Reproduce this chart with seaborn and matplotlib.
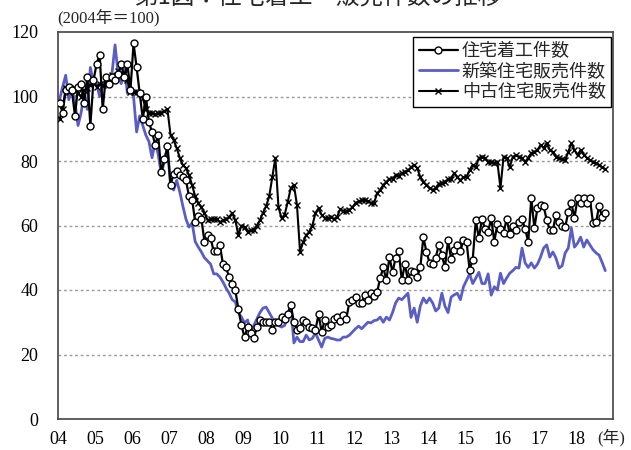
import numpy as np
import pandas as pd
import matplotlib
matplotlib.use("Agg")
import matplotlib.pyplot as plt
import seaborn as sns

# ---- data (index, 2004 = 100), monthly from Jan 2004 ----
starts = [
    98, 95, 102, 103, 102, 94, 103, 104, 98, 106, 91, 105,            # 2004
    110, 113, 96, 106, 104, 106, 105, 107, 110, 106, 110, 102,        # 2005
    116.5, 109, 101, 93, 100, 92, 89, 85, 88, 76.5, 80.5, 84.5,       # 2006
    72.6, 76, 77, 75.6, 75, 74, 69, 68, 61, 63, 62, 55,               # 2007
    57, 56, 52, 52, 54, 48, 47, 44, 42, 40, 34, 29,                   # 2008
    25.4, 28.5, 26.7, 25, 28.5, 30.7, 30, 30, 30, 27.6, 30, 30,       # 2009
    31.5, 31, 32.6, 35.5, 30, 27.6, 28.2, 30.7, 30, 28.5, 28.2, 27.6, # 2010
    32.5, 27, 30.7, 28.5, 29, 31, 31.6, 30.5, 32.2, 31, 36.3, 36.9,   # 2011
    37.8, 36, 36, 38.4, 36.9, 39, 38, 39.4, 43.7, 47, 43, 50.2,       # 2012
    45.5, 50, 52, 43, 48, 43, 46, 45.5, 44, 47, 56.4, 51.8,           # 2013
    48.4, 48, 50, 54, 50.8, 47, 55.5, 49.5, 52.4, 54, 52, 55.5,       # 2014
    55, 46.2, 49.4, 61.7, 56, 62, 59, 58, 62.3, 55, 60.5, 59,         # 2015
    57.7, 62, 57.5, 60, 58.6, 61, 62, 59, 54.9, 68.5, 59.2, 65.4,     # 2016
    66.4, 66, 61.7, 58.6, 58.6, 63.3, 61, 60, 59.5, 64.2, 67, 62.3,   # 2017
    68.5, 67, 68.5, 67, 68.5, 60.8, 61, 66, 62.6, 64,                 # 2018
]
new_sales = [
    99, 103, 106.6, 99, 102.6, 98, 91, 95, 101, 96, 109, 104,         # 2004
    104, 100, 103, 105, 104, 107, 116, 107, 104, 110, 101, 103,       # 2005
    100, 89, 94, 91, 88, 86, 81, 86, 82, 76, 80, 84,                  # 2006
    72.5, 71, 74, 70.4, 66, 62, 59.5, 60.8, 55, 53.3, 51.8, 50,       # 2007
    49, 48, 45, 45, 44, 42.5, 40.6, 39, 37, 36.3, 33, 31.6,           # 2008
    29.8, 30.7, 26.7, 29, 31, 33, 34.4, 34.7, 33, 31.3, 29.8, 29,     # 2009
    28.5, 29, 32, 35.4, 23.6, 25.4, 24, 24, 26, 24.5, 25, 26.7,       # 2010
    24.5, 22.3, 25, 25.4, 25, 24.8, 24.5, 24.5, 25.4, 25.4, 26, 27,   # 2011
    28, 28.8, 28, 29, 30, 29.8, 30.5, 30.7, 31.6, 30, 31.6, 30.7,     # 2012
    33, 36, 37.5, 37, 38, 39, 31.5, 34.4, 30, 35, 37.5, 36,           # 2013
    37.5, 36, 33.5, 34.4, 39, 35, 33, 37.8, 38.5, 39, 37, 41,         # 2014
    43, 45, 42, 43.7, 45.5, 42, 42, 45, 38.4, 41, 40, 45.2,           # 2015
    42, 43.7, 45.2, 46, 47, 46.8, 53, 48.4, 47, 48.4, 46.8, 48,       # 2016
    50.2, 53, 54, 50.2, 51.8, 49.9, 46.8, 47.5, 51.5, 53, 59.2, 53.3, # 2017
    54.5, 56.4, 53.3, 55.5, 54, 52.5, 51.5, 50.8, 48.5, 46,           # 2018
]
existing_sales = [
    93, 96, 102.6, 101.4, 102, 102.6, 101, 100, 102, 102.6, 103.6, 104.5,  # 2004
    103, 104, 103.5, 104, 105, 106.7, 106, 108, 107, 107, 105, 101.4,      # 2005
    101.4, 101.4, 101, 99.5, 96, 95, 95, 94.5, 95, 95, 95.5, 96,           # 2006
    88, 86.5, 84, 81, 78.7, 77.8, 75.6, 72.5, 69, 67, 65.7, 63.9,          # 2007
    61.7, 62, 62, 62, 61, 61.7, 62, 62.6, 63.9, 61.7, 57, 60,              # 2008
    59.5, 58, 58.6, 58.6, 60, 61.7, 64, 66, 69, 75, 81, 65.7,              # 2009
    62.3, 63.3, 67.3, 71.6, 72.6, 66.4, 51.8, 54.9, 57, 58, 60, 63.9,      # 2010
    65.4, 63.3, 62.3, 62.3, 62.6, 62, 62.6, 65, 64.5, 64.5, 64.8, 65.7,    # 2011
    67, 67.5, 67.9, 67.9, 67.5, 67, 67, 70, 71, 72.6, 73.5, 74.5,          # 2012
    74.5, 75.6, 75.5, 76.3, 76.6, 77.2, 78, 78.8, 77.8, 75, 73.5, 72.6,    # 2013
    71.6, 71, 71.6, 73, 73.2, 73.5, 74.4, 74.4, 76.3, 75, 74, 75,          # 2014
    75, 77.2, 78.8, 78, 81, 81.3, 81, 79.7, 79.7, 79.5, 79.7, 71.6,        # 2015
    81.3, 81, 78, 81.3, 81.8, 81.3, 81, 79.7, 81, 82.5, 82.8, 83.4,        # 2016
    85, 84, 85.6, 83.4, 82.8, 81.3, 81, 80.5, 80.3, 82.8, 85.6, 83.4,      # 2017
    81.8, 83.4, 82, 81, 80.3, 79.7, 79.4, 78.8, 78, 77.5,                  # 2018
]
series_names = ["住宅着工件数", "新築住宅販売件数", "中古住宅販売件数"]
year_ticks = list(range(2004, 2019))
year_labels = [f"{y % 100:02d}" for y in year_ticks]
y_ticks = [0, 20, 40, 60, 80, 100, 120]

# time axis: mid-month positions
n = len(starts)
t = 2004 + (np.arange(n) + 0.5) / 12.0
df = pd.DataFrame({"t": t, "starts": starts, "new": new_sales, "existing": existing_sales})

# ---- style ----
sns.set_style("white")
plt.rcParams["font.family"] = ["Liberation Serif", "Noto Sans CJK JP", "DejaVu Sans"]
cjk = ["Noto Sans CJK JP", "DejaVu Sans"]
serif_cjk = ["Liberation Serif", "Noto Sans CJK JP"]

fig = plt.figure(figsize=(6.31, 4.50), dpi=100)
ax = fig.add_axes([58 / 631, 1 - 419 / 450, 555 / 631, 387 / 450])

blue = "#5a5ec4"
sns.lineplot(data=df, x="t", y="new", ax=ax, color=blue, lw=2.0,
             label=series_names[1], zorder=2)
sns.lineplot(data=df, x="t", y="existing", ax=ax, color="black", lw=1.5,
             marker="x", markersize=4, markeredgewidth=1.0, markeredgecolor="black",
             label=series_names[2], zorder=3)
sns.lineplot(data=df, x="t", y="starts", ax=ax, color="black", lw=1.6,
             marker="o", markersize=5, markerfacecolor="white",
             markeredgecolor="black", markeredgewidth=1.0,
             label=series_names[0], zorder=4)

ax.set_xlim(2004, 2019)
ax.set_ylim(0, 120)
ax.set_xlabel("")
ax.set_ylabel("")
ax.set_yticks(y_ticks)
ax.set_yticklabels([str(v) for v in y_ticks], fontsize=13, family="Liberation Serif")
ax.set_xticks(year_ticks)
ax.set_xticklabels(year_labels, fontsize=13, family="Liberation Serif")
ax.tick_params(axis="y", direction="in", length=4, width=1, pad=14, colors="#333333",
               labelcolor="black")
ax.tick_params(axis="x", direction="in", length=4, width=1, pad=9, colors="#333333",
               labelcolor="black")

for yv in [20, 40, 60, 80, 100]:
    ax.axhline(yv, color="#999999", lw=1.0, ls=(0, (2, 2)), zorder=1)
ax.grid(False)

for s in ax.spines.values():
    s.set_color("#444444")
    s.set_linewidth(1.2)
    s.set_visible(True)

# legend in order: starts, new, existing
handles, labels = ax.get_legend_handles_labels()
order = [labels.index(nm) for nm in series_names]
leg = ax.legend([handles[i] for i in order], [labels[i] for i in order],
                loc="upper right", bbox_to_anchor=(0.997, 0.988),
                prop={"family": cjk, "size": 13}, frameon=True, fancybox=False,
                edgecolor="black", framealpha=1, handlelength=2.2,
                handletextpad=0.2, borderpad=0.3, labelspacing=0.15,
                borderaxespad=0.0)
leg.get_frame().set_linewidth(1.0)

# texts
fig.text(318 / 631, 1 - 9 / 450, "第1図：住宅着工・販売件数の推移", ha="center", va="bottom",
         fontsize=17, family=cjk)
fig.text(57 / 631, 1 - 18 / 450, "(2004年＝100)", ha="left", va="center",
         fontsize=12, family=serif_cjk)
fig.text(597 / 631, 1 - 438 / 450, "(年)", ha="left", va="center",
         fontsize=12, family=serif_cjk)

fig.savefig("out.png", dpi=100)
